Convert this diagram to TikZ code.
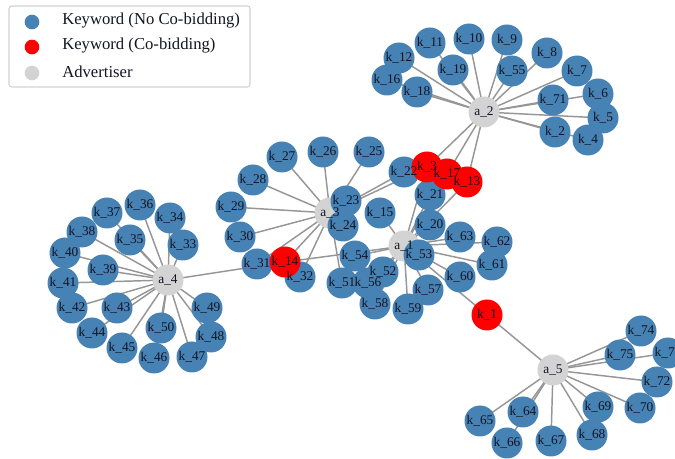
\documentclass[tikz,border=0pt]{standalone}
\usepackage{fontspec}
\setmainfont{Liberation Serif}
\pgfdeclarelayer{bg}
\pgfsetlayers{bg,main}
\definecolor{kwblue}{RGB}{70,130,180}
\definecolor{kwred}{RGB}{255,0,0}
\definecolor{advgray}{RGB}{211,211,211}
\definecolor{edgegray}{RGB}{150,150,150}
\definecolor{legframe}{RGB}{210,210,210}
\definecolor{lbltext}{RGB}{20,20,35}
\begin{document}
\begin{tikzpicture}[x=0.75pt,y=-0.75pt,
  dot/.style={circle,minimum size=23.25pt,inner sep=0pt,draw=none},
  bluedot/.style={dot,fill=kwblue},
  reddot/.style={dot,fill=kwred},
  advdot/.style={dot,fill=advgray},
  lbl/.style={font=\fontsize{10}{10}\selectfont,inner sep=0pt,text=lbltext},
  link/.style={draw=edgegray,line width=1.1pt},
  legtext/.style={font=\fontsize{12.5}{13}\selectfont,anchor=west,inner sep=0pt,text=lbltext}]
\useasboundingbox (0,0) rectangle (675,459);

% advertisers
\foreach \n/\x/\y in {1/404/246,2/484/112,3/330/213,4/168/280,5/553/370}
  \node[advdot] (a\n) at (\x,\y) {};

% keywords bid on by a single advertiser
\foreach \n/\x/\y/\p in {
  2/555/132/2,4/588/140/2,5/603/118/2,6/598/94/2,7/577/71/2,8/547/53/2,
  9/507/40/2,10/469/39/2,11/430/43/2,12/399/58/2,16/387/80/2,18/417/92/2,
  19/453/70/2,55/512/71/2,71/553/100/2,
  22/404/172/3,23/346/201/3,24/343/226/3,25/369/152/3,26/323/152/3,
  27/282/157/3,28/253/180/3,29/231/207/3,30/240/237/3,31/257/264/3,
  32/300/277/3,51/342/283/3,
  15/380/213/1,20/430/225/1,21/430/195/1,52/383/272/1,53/419/255/1,
  54/355/256/1,56/368/283/1,57/428/290/1,58/375/304/1,59/408/309/1,
  60/460/277/1,61/492/265/1,62/497/242/1,63/460/237/1,
  33/183/245/4,34/170/218/4,35/130/240/4,36/140/205/4,37/107/213/4,
  38/82/232/4,39/103/270/4,40/65/253/4,41/63/283/4,42/72/308/4,
  43/117/308/4,44/92/333/4,45/122/348/4,46/154/358/4,47/192/357/4,
  48/211/337/4,49/207/308/4,50/161/328/4,
  64/523/412/5,65/480/421/5,66/507/443/5,67/551/441/5,68/592/435/5,
  69/598/407/5,70/640/408/5,72/657/382/5,73/668/353/5,74/641/331/5,
  75/620/355/5}{
  \node[bluedot] (k\n) at (\x,\y) {};
  \begin{pgfonlayer}{bg}
    \draw[link] (a\p.center) -- (k\n.center);
  \end{pgfonlayer}
}

% co-bidding keywords
\foreach \n/\x/\y in {3/427/167,17/447/174,13/467/182,14/285/262,1/487/315}
  \node[reddot] (k\n) at (\x,\y) {};
\begin{pgfonlayer}{bg}
  \foreach \n/\p in {1/1,1/5,3/2,3/3,3/1,17/2,17/1,13/2,13/1,14/4,14/3,14/1}
    \draw[link] (a\p.center) -- (k\n.center);
\end{pgfonlayer}

% labels on top of every disc
\foreach \n in {1,...,5}
  \node[lbl] (la\n) at (a\n) {a\_\n};
\foreach \n in {1,...,75}
  \node[lbl] (lk\n) at (k\n) {k\_\n};

% legend
\draw[legframe,line width=0.8pt,rounded corners=2pt,fill=white] (9,6) rectangle (250,87);
\node[circle,fill=kwblue,minimum size=11pt,inner sep=0pt] (lgb) at (32,22) {};
\node[circle,fill=kwred,minimum size=11pt,inner sep=0pt] (lgr) at (32,47) {};
\node[circle,fill=advgray,minimum size=11pt,inner sep=0pt] (lga) at (32,73) {};
\node[legtext] (tb) at (62,21) {Keyword (No Co-bidding)};
\node[legtext] (tr) at (62,46) {Keyword (Co-bidding)};
\node[legtext] (ta) at (62,72) {Advertiser};
\end{tikzpicture}
\end{document}
